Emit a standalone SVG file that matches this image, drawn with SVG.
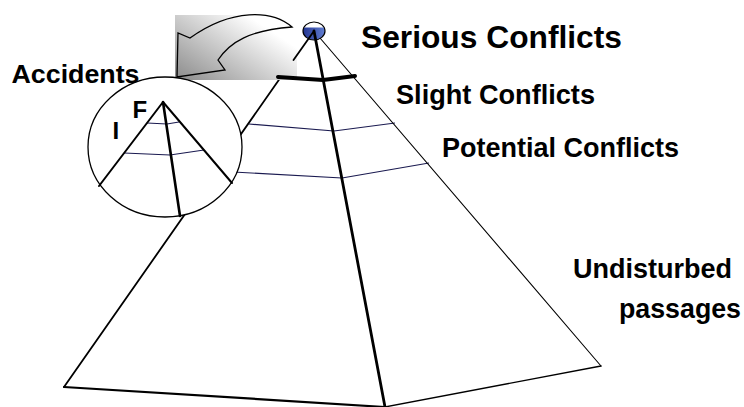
<svg xmlns="http://www.w3.org/2000/svg" width="744" height="407" viewBox="0 0 744 407">
  <style>
    .lbl { font-family: "Liberation Sans", Arial, sans-serif; font-weight: bold; fill: #000; }
    .edge { fill: none; stroke: #000; stroke-linecap: round; stroke-linejoin: round; }
    .band { fill: none; stroke: #1a1a50; stroke-width: 1.2; }
  </style>
  <defs>
    <linearGradient id="gray" x1="0" y1="1" x2="1" y2="0.2">
      <stop offset="0" stop-color="#8a8a8a"/>
      <stop offset="0.85" stop-color="#ffffff"/>
    </linearGradient>
    <linearGradient id="blue" x1="0" y1="0" x2="1" y2="0">
      <stop offset="0" stop-color="#1a2a88"/>
      <stop offset="1" stop-color="#7090e0"/>
    </linearGradient>
    <clipPath id="sphereClip">
      <ellipse cx="314" cy="31" rx="11" ry="9"/>
    </clipPath>
  </defs>
  <rect width="744" height="407" fill="#fff"/>

  <g id="pyramid">
    <line class="band" x1="249" y1="124" x2="334" y2="131"/>
    <line class="band" x1="334" y1="131" x2="395" y2="123"/>
    <line class="band" x1="215" y1="171" x2="342" y2="178"/>
    <line class="band" x1="342" y1="178" x2="429" y2="163"/>
    <line class="edge" x1="279.5" y1="79" x2="64" y2="387" stroke-width="1.8"/>
    <line class="edge" x1="64" y1="387" x2="385" y2="407" stroke-width="2.2"/>
    <line class="edge" x1="385" y1="407" x2="601" y2="366" stroke-width="1.3"/>
    <line class="edge" x1="314" y1="31" x2="601" y2="366" stroke-width="1.1"/>
  </g>

  <g id="arrow">
    <rect x="175" y="15" width="122" height="65" fill="url(#gray)"/>
    <path d="M292,27 C272,10 232,8 190,38 L178,33 L177,77 L225,70 L218,60 C230,42 250,30 292,27 Z" fill="none" stroke="#000" stroke-width="1.3" stroke-linejoin="miter"/>
  </g>

  <g id="top">
    <polyline class="edge" points="278,77 323,80 355,76" stroke-width="4" stroke-linecap="butt"/>
    <ellipse cx="314" cy="31" rx="11" ry="9" fill="#fff"/>
    <rect x="300" y="27.5" width="30" height="15" fill="url(#blue)" clip-path="url(#sphereClip)"/>
    <ellipse cx="314" cy="31" rx="11" ry="9" fill="none" stroke="#000" stroke-width="1.2"/>
    <line class="edge" x1="314" y1="31" x2="293.5" y2="60" stroke-width="1.8"/>
    <line class="edge" x1="314" y1="31" x2="385" y2="407" stroke-width="2.8"/>
  </g>

  <g id="zoom-circle">
    <ellipse cx="165" cy="147" rx="77" ry="70" fill="#fff" stroke="#000" stroke-width="1.3"/>
    <polyline class="band" points="147,123 167,124 179,122" stroke="#000" stroke-width="1"/>
    <polyline class="band" points="124,153 170,155 204,150" stroke="#1a1a50" stroke-width="1.2"/>
    <line class="edge" x1="163" y1="102" x2="99" y2="186" stroke-width="2"/>
    <line class="edge" x1="163" y1="102" x2="232" y2="183" stroke-width="2"/>
    <line class="edge" x1="163" y1="102" x2="180" y2="216" stroke-width="2.6"/>
    <text class="lbl" x="132.5" y="118" font-size="24">F</text>
    <text class="lbl" x="112.5" y="139" font-size="24">I</text>
  </g>

  <g id="labels">
    <text class="lbl" x="361" y="48" font-size="31" textLength="261" lengthAdjust="spacingAndGlyphs">Serious Conflicts</text>
    <text class="lbl" x="396" y="104" font-size="27" textLength="199" lengthAdjust="spacingAndGlyphs">Slight Conflicts</text>
    <text class="lbl" x="442" y="157" font-size="27" textLength="237" lengthAdjust="spacingAndGlyphs">Potential Conflicts</text>
    <text class="lbl" x="573" y="278" font-size="27" textLength="159" lengthAdjust="spacingAndGlyphs">Undisturbed</text>
    <text class="lbl" x="619" y="318" font-size="27" textLength="122" lengthAdjust="spacingAndGlyphs">passages</text>
    <text class="lbl" x="11.5" y="83" font-size="26" textLength="128" lengthAdjust="spacingAndGlyphs">Accidents</text>
  </g>
</svg>
